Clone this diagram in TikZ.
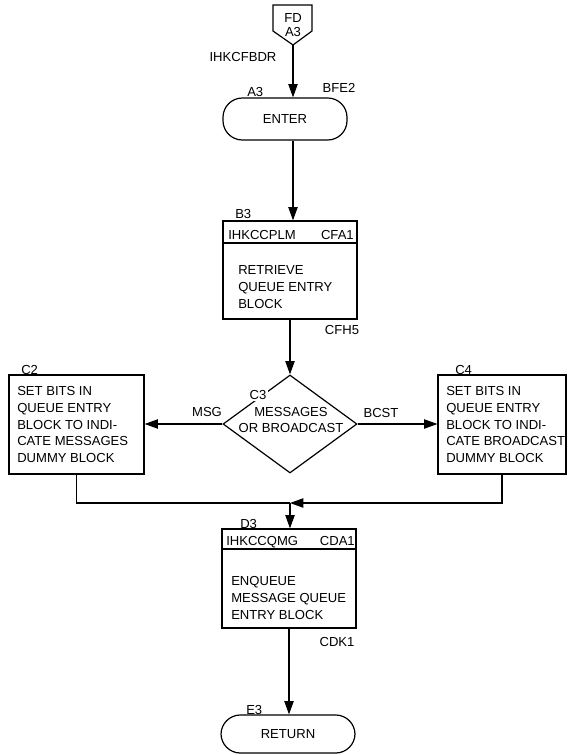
\documentclass[tikz,border=0pt]{standalone}
\usepackage{fontspec}
\setmainfont{Liberation Sans}
\usetikzlibrary{arrows.meta,shapes.geometric}

\tikzset{
  flow/.style={line width=0.9pt},
  arr/.style={flow,-{Triangle[length=10pt,width=7pt]}},
  txt/.style={font=\fontsize{9.8}{12.6}\selectfont,inner sep=0pt},
  lines/.style={txt,align=left},
  tag/.style={txt,anchor=base west},
  procbox/.style={draw,flow,rectangle,minimum width=100.5pt,inner sep=0pt},
  termbox/.style={draw,flow,rectangle,rounded corners=14.5pt,inner sep=0pt},
  decbox/.style={draw,flow,diamond,inner sep=0pt,minimum width=100.5pt,minimum height=73.5pt},
}

\begin{document}
\begin{tikzpicture}[x=0.75pt,y=-0.75pt]
\useasboundingbox (0,0) rectangle (567,755);

% off-page entry connector
\draw[flow] (273,5) -- (312,5) -- (312,31) -- (293,45) -- (273,31) -- cycle;
\coordinate (fd) at (293,45);
\node[txt,align=center,font=\fontsize{9.8}{10.5}\selectfont] (fdtext) at (293,25) {FD\\A3};
\node[txt] (ihkcfbdr) at (243,57) {IHKCFBDR};

% A3: enter
\node[termbox,minimum width=93pt,minimum height=31.5pt] (enter) at (285,119) {};
\node[txt] (entertext) at (285,119) {ENTER};
\node[tag] (a3) at (247,97) {A3};
\node[txt] (bfe2) at (339,88) {BFE2};

% B3: retrieve queue entry block
\node[procbox,minimum height=16.5pt] (b3h) at (290,232) {};
\node[procbox,minimum height=57pt] (b3) at (290,281) {};
\node[tag] (b3id) at (228,239) {IHKCCPLM};
\node[txt,anchor=base east] (b3ref) at (354,239) {CFA1};
\node[lines,anchor=west] (b3text) at (238,287) {RETRIEVE\\QUEUE ENTRY\\BLOCK};
\node[tag] (b3lab) at (235,219) {B3};
\node[txt] (cfh5) at (342,330) {CFH5};

% C3: decision
\node[decbox] (c3) at (290,424) {};
\node[txt,align=center,font=\fontsize{9.8}{12}\selectfont] (c3text) at (291,419.5) {MESSAGES\\OR BROADCAST};
\node[txt,fill=white,inner sep=1pt] (c3lab) at (258,395) {C3};
\node[txt] (msg) at (207,412) {MSG};
\node[txt] (bcst) at (381,413) {BCST};

% C2 and C4: set bits
\node[procbox,minimum width=101.25pt,minimum height=74.25pt] (c2) at (76.5,424.5) {};
\node[lines,anchor=west] (c2text) at (17,424.5)
  {SET BITS IN\\QUEUE ENTRY\\BLOCK TO INDI-\\CATE MESSAGES\\DUMMY BLOCK};
\node[tag] (c2lab) at (21,374) {C2};

\node[procbox,minimum width=96pt,minimum height=74.25pt] (c4) at (502,424.5) {};
\node[lines,anchor=west] (c4text) at (446,424.5)
  {SET BITS IN\\QUEUE ENTRY\\BLOCK TO INDI-\\CATE BROADCAST\\DUMMY BLOCK};
\node[tag] (c4lab) at (455,374) {C4};

% D3: enqueue
\node[procbox,minimum height=15pt] (d3h) at (289,539) {};
\node[procbox,minimum height=59.25pt] (d3) at (289,588.5) {};
\node[tag] (d3id) at (226,545) {IHKCCQMG};
\node[txt,anchor=base east] (d3ref) at (355,545) {CDA1};
\node[lines,anchor=west] (d3text) at (231,598) {ENQUEUE\\MESSAGE QUEUE\\ENTRY BLOCK};
\node[tag] (d3lab) at (240,528) {D3};
\node[txt] (cdk1) at (337,642) {CDK1};

% E3: return
\node[termbox,minimum width=100.5pt,minimum height=28.5pt] (ret) at (288,734) {};
\node[txt] (rettext) at (288,734) {RETURN};
\node[tag] (e3lab) at (246,714) {E3};

% connectors
\coordinate (j) at (290,503);
\draw[arr] (fd) -- (fd |- enter.north);
\draw[arr] (fd |- enter.south) -- (fd |- b3h.north);
\draw[arr] (b3.south) -- (c3.north);
\draw[arr] (c3.west) -- (c2.east |- c3.west);
\draw[arr] (c3.east) -- (c4.west |- c3.east);
\draw[flow] (c2.south) |- (j);
\draw[arr] (c4.south) |- (j);
\draw[arr] (j) -- (j |- d3h.north);
\draw[arr] (d3.south) -- (d3.south |- ret.north);
\end{tikzpicture}
\end{document}
